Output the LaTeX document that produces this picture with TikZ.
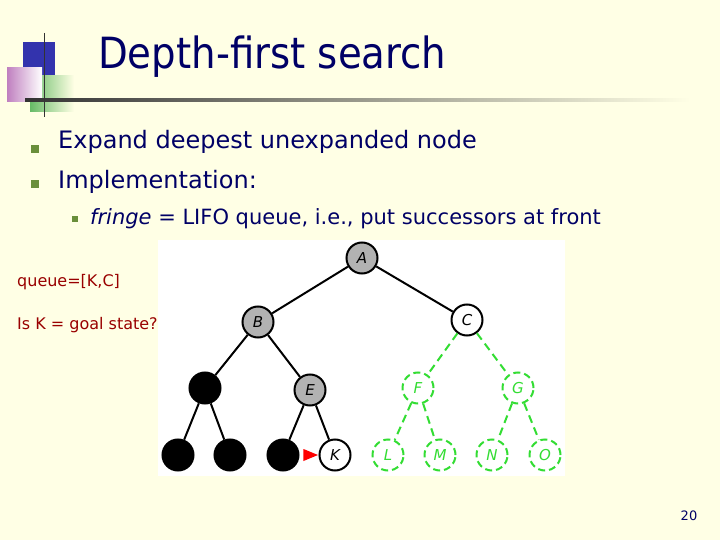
\documentclass[tikz,border=0pt]{standalone}
\usepackage{fontspec}
\setmainfont{DejaVu Sans}
\newfontfamily\cond{DejaVu Sans Condensed}
\usetikzlibrary{shapes.geometric}
\definecolor{bg}{HTML}{FFFFE5}
\definecolor{navy}{HTML}{000066}
\definecolor{dred}{HTML}{990000}
\definecolor{bul}{HTML}{6A8F3A}
\definecolor{lgreen}{HTML}{33DD33}
\tikzset{
  tn/.style={circle,draw=black,line width=2pt,minimum size=31pt,inner sep=0pt,font=\itshape\fontsize{15}{15}\selectfont},
  greynode/.style={tn,fill=gray!60},
  whitenode/.style={tn,fill=white},
  blk/.style={tn,fill=black},
  gn/.style={tn,draw=lgreen,text=lgreen,dash pattern=on 7pt off 4pt,fill=white},
  ed/.style={line width=2pt},
  ged/.style={line width=2pt,draw=lgreen,dash pattern=on 8pt off 5pt},
  bt/.style={anchor=west,text=navy,font=\fontsize{24}{24}\selectfont,inner sep=0pt},
  sq/.style={fill=bul,minimum size=8pt,inner sep=0pt},
}
\begin{document}
\begin{tikzpicture}[x=1pt,y=-1pt]
\useasboundingbox (0,0) rectangle (720,540);
\fill[bg] (0,0) rectangle (720,540);
% decoration
\fill[blue!60!black!80] (23,42) rectangle (55,76);
\shade[left color=green!55!black!60,right color=bg] (30,76) rectangle (74,112);
\shade[left color=violet!50,right color=white] (7,68) rectangle (42,102);
\shade[left color=black!80,right color=bg] (25,99) rectangle (690,102);
\draw[black!80,line width=1pt] (44,33) -- (44,117);
\node[anchor=west,text=navy,inner sep=0pt,font=\cond\fontsize{43}{43}\selectfont] (title) at (98,57) {Depth-first search};
% bullets
\node[sq] (b1) at (35,149) {};
\node[sq] (b2) at (35,184) {};
\node[sq,minimum size=6pt] (b3) at (75,219) {};
\node[bt] (t1) at (58,142) {Expand deepest unexpanded node};
\node[bt] (t2) at (58,182) {Implementation:};
\node[bt,font=\fontsize{21}{21}\selectfont] (t3) at (90,219) {\textit{fringe} = LIFO queue, i.e., put successors at front};
\node[anchor=west,text=dred,inner sep=0pt,font=\fontsize{16}{16}\selectfont] (q) at (17,282) {queue=[K,C]};
\node[anchor=west,text=dred,inner sep=0pt,font=\fontsize{16}{16}\selectfont] (g) at (17,325) {Is K = goal state?};
\node[text=navy,font=\fontsize{13}{13}\selectfont] (pg) at (689,516) {20};
% tree
\fill[white] (158,240) rectangle (565,476);
\node[greynode] (A) at (362,258) {A};
\node[greynode] (B) at (258,322) {B};
\node[whitenode] (C) at (467,320) {C};
\node[blk] (D) at (205,388) {};
\node[greynode] (E) at (310,390) {E};
\node[gn] (F) at (418,388) {F};
\node[gn] (G) at (518,388) {G};
\node[blk] (H) at (178,455) {};
\node[blk] (I) at (230,455) {};
\node[blk] (J) at (283,455) {};
\node[whitenode] (K) at (335,455) {K};
\node[gn] (L) at (388,455) {L};
\node[gn] (M) at (440,455) {M};
\node[gn] (N) at (492,455) {N};
\node[gn] (O) at (545,455) {O};
\draw[ed] (A)--(B); \draw[ed] (A)--(C);
\draw[ed] (B)--(D); \draw[ed] (B)--(E);
\draw[ed] (D)--(H); \draw[ed] (D)--(I);
\draw[ed] (E)--(J); \draw[ed] (E)--(K);
\draw[ged] (C)--(F); \draw[ged] (C)--(G);
\draw[ged] (F)--(L); \draw[ged] (F)--(M);
\draw[ged] (G)--(N); \draw[ged] (G)--(O);
\node[isosceles triangle,fill=red,minimum width=12pt,minimum height=10pt,inner sep=0pt,anchor=apex] (tri) at (K.west) {};
\end{tikzpicture}
\end{document}
